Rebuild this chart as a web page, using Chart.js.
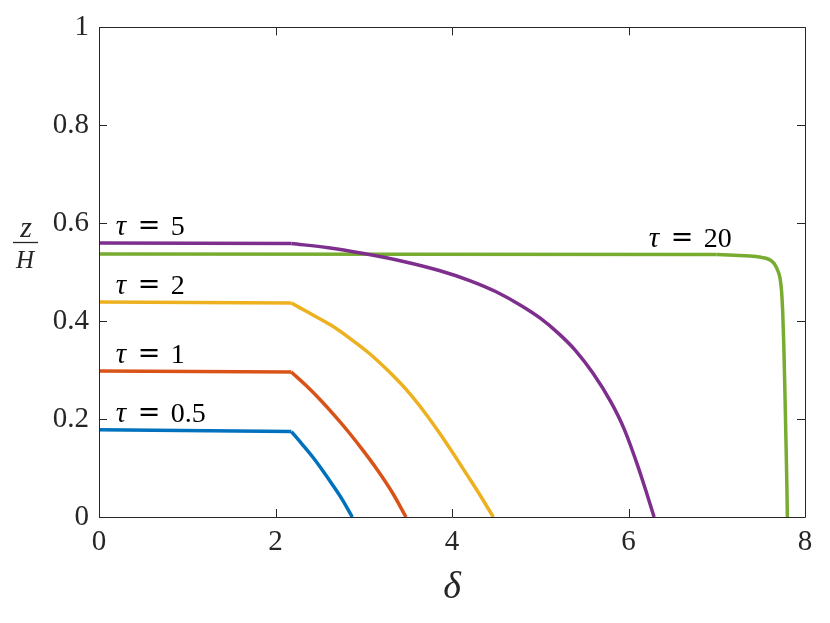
<!DOCTYPE html>
<html>
<head>
<meta charset="utf-8">
<script src="https://cdn.jsdelivr.net/npm/chart.js@4"></script>
<style>
html,body{margin:0;padding:0;background:#fff;}
#wrap{width:830px;height:623px;position:relative;}
</style>
</head>
<body>
<div id="wrap"><canvas id="c" width="830" height="623"></canvas></div>
<script>
// ---- data ----
const xTicks = [0, 2, 4, 6, 8];
const yTicks = [0, 0.2, 0.4, 0.6, 0.8, 1];

// tau = 0.5
const t05FlatX = [0, 2.18];
const t05FlatY = [0.178, 0.1745];
const t05CurveX = [2.18, 2.30, 2.428, 2.54, 2.655, 2.76, 2.87];
const t05CurveY = [0.1745, 0.149, 0.121, 0.0935, 0.0635, 0.0345, 0];

// tau = 1
const t1FlatX = [0, 2.18];
const t1FlatY = [0.298, 0.296];
const t1CurveX = [2.18, 2.35, 2.504, 2.68, 2.844, 3.0, 3.147, 3.32, 3.479];
const t1CurveY = [0.296, 0.268, 0.240, 0.205, 0.170, 0.134, 0.098, 0.051, 0];

// tau = 2
const t2FlatX = [0, 2.18];
const t2FlatY = [0.439, 0.437];
const t2CurveX = [2.18, 2.40, 2.618, 2.85, 3.071, 3.28, 3.487, 3.68, 3.864, 4.02, 4.167, 4.32, 4.468];
const t2CurveY = [0.437, 0.415, 0.393, 0.364, 0.333, 0.298, 0.259, 0.216, 0.170, 0.128, 0.087, 0.044, 0];

// tau = 5
const t5FlatX = [0, 2.18];
const t5FlatY = [0.5595, 0.5585];
const t5CurveX = [2.18, 2.6, 3.0, 3.45, 3.864, 4.2, 4.5, 4.8, 5.0, 5.2, 5.4, 5.6, 5.8, 5.95, 6.1, 6.2, 6.29];
const t5CurveY = [0.5585, 0.550, 0.538, 0.522, 0.503, 0.483, 0.460, 0.430, 0.406, 0.376, 0.340, 0.293, 0.235, 0.180, 0.107, 0.052, 0];

// tau = 20
const t20FlatX = [0, 7.0];
const t20FlatY = [0.537, 0.536];
const t20CurveX = [7.0, 7.2, 7.377, 7.5, 7.566, 7.62, 7.66, 7.69, 7.717, 7.735, 7.747, 7.76, 7.773, 7.785, 7.795, 7.80];
const t20CurveY = [0.536, 0.5345, 0.533, 0.5305, 0.528, 0.523, 0.515, 0.504, 0.488, 0.46, 0.42, 0.35, 0.25, 0.15, 0.06, 0];

// labels: tau value, anchor (left x, baseline y) in data units
const tauLabels = ['0.5', '1', '2', '5', '20'];
const tauLabelX = [0.2, 0.2, 0.2, 0.2, 6.24];
const tauLabelY = [0.194, 0.314, 0.455, 0.575, 0.552];

const colors = ['#0072BD', '#D95319', '#EDB120', '#7E2F8E', '#77AC30'];

// ---- build datasets ----
function pts(xs, ys) { return xs.map((x, i) => ({x: x, y: ys[i]})); }
const series = [
  [t05FlatX, t05FlatY, t05CurveX, t05CurveY],
  [t1FlatX, t1FlatY, t1CurveX, t1CurveY],
  [t2FlatX, t2FlatY, t2CurveX, t2CurveY],
  [t5FlatX, t5FlatY, t5CurveX, t5CurveY],
  [t20FlatX, t20FlatY, t20CurveX, t20CurveY]
];
const LW = 3.5;
const datasets = [];
series.forEach((s, i) => {
  datasets.push({data: pts(s[0], s[1]), borderColor: colors[i], borderWidth: LW, showLine: true,
    pointRadius: 0, tension: 0, borderCapStyle: 'butt', borderJoinStyle: 'round'});
  datasets.push({data: pts(s[2], s[3]), borderColor: colors[i], borderWidth: LW, showLine: true,
    pointRadius: 0, cubicInterpolationMode: 'monotone', borderCapStyle: 'butt', borderJoinStyle: 'round'});
});

const AXC = '#262626';
const SERIF = '"Liberation Serif", "DejaVu Serif", serif';

const framePlugin = {
  id: 'frame',
  afterDatasetsDraw(chart) {
    const ctx = chart.ctx, a = chart.chartArea;
    const xs = chart.scales.x, ys = chart.scales.y;
    ctx.save();
    ctx.strokeStyle = AXC;
    ctx.lineWidth = 1;
    ctx.beginPath();
    ctx.rect(Math.round(a.left) + 0.5, Math.round(a.top) + 0.5, Math.round(a.right - a.left), Math.round(a.bottom - a.top));
    ctx.stroke();
    const L = 8;
    ctx.beginPath();
    xTicks.forEach(v => {
      const px = Math.round(xs.getPixelForValue(v)) + 0.5;
      ctx.moveTo(px, a.bottom); ctx.lineTo(px, a.bottom - L);
      ctx.moveTo(px, a.top); ctx.lineTo(px, a.top + L);
    });
    yTicks.forEach(v => {
      const py = Math.round(ys.getPixelForValue(v)) + 0.5;
      ctx.moveTo(a.left, py); ctx.lineTo(a.left + L, py);
      ctx.moveTo(a.right, py); ctx.lineTo(a.right - L, py);
    });
    ctx.stroke();

    // tau labels
    ctx.fillStyle = '#000';
    ctx.textBaseline = 'alphabetic';
    ctx.textAlign = 'left';
    tauLabels.forEach((t, i) => {
      const x = xs.getPixelForValue(tauLabelX[i]);
      const y = ys.getPixelForValue(tauLabelY[i]);
      ctx.font = 'italic 29px ' + SERIF;
      ctx.fillText('\u03C4', x - 1, y);
      ctx.font = '27px "DejaVu Serif", serif';
      ctx.fillText('=', x + 21, y - 1);
      ctx.font = '28px ' + SERIF;
      ctx.fillText(t, x + 54, y);
    });

    // y axis label: z / H
    ctx.fillStyle = AXC;
    ctx.textAlign = 'center';
    ctx.font = 'italic 30px ' + SERIF;
    ctx.fillText('z', 26, 237);
    ctx.font = 'italic 25px ' + SERIF;
    ctx.fillText('H', 25, 268);
    ctx.strokeStyle = AXC;
    ctx.lineWidth = 1.3;
    ctx.beginPath();
    ctx.moveTo(13, 242.5); ctx.lineTo(38, 242.5);
    ctx.stroke();

    // x axis label
    ctx.font = 'italic 38px ' + SERIF;
    ctx.fillText('\u03B4', 452, 598);
    ctx.restore();
  }
};

new Chart(document.getElementById('c'), {
  type: 'scatter',
  data: {datasets: datasets},
  options: {
    responsive: false,
    animation: false,
    devicePixelRatio: 1,
    layout: {padding: {left: 0, top: 18, right: 25, bottom: 0}},
    plugins: {legend: {display: false}, tooltip: {enabled: false}},
    scales: {
      x: {
        type: 'linear', min: 0, max: 8,
        afterBuildTicks: s => { s.ticks = xTicks.map(v => ({value: v})); },
        afterFit: s => { s.height = 106; },
        grid: {display: false, drawTicks: false}, border: {display: false},
        ticks: {color: AXC, font: {family: SERIF, size: 29}, padding: 8, maxRotation: 0, callback: v => String(v)}
      },
      y: {
        type: 'linear', min: 0, max: 1,
        afterBuildTicks: s => { s.ticks = yTicks.map(v => ({value: v})); },
        afterFit: s => { s.width = 99; },
        grid: {display: false, drawTicks: false}, border: {display: false},
        ticks: {color: AXC, font: {family: SERIF, size: 29}, padding: 10, callback: v => String(v)}
      }
    }
  },
  plugins: [framePlugin]
});
</script>
</body>
</html>
